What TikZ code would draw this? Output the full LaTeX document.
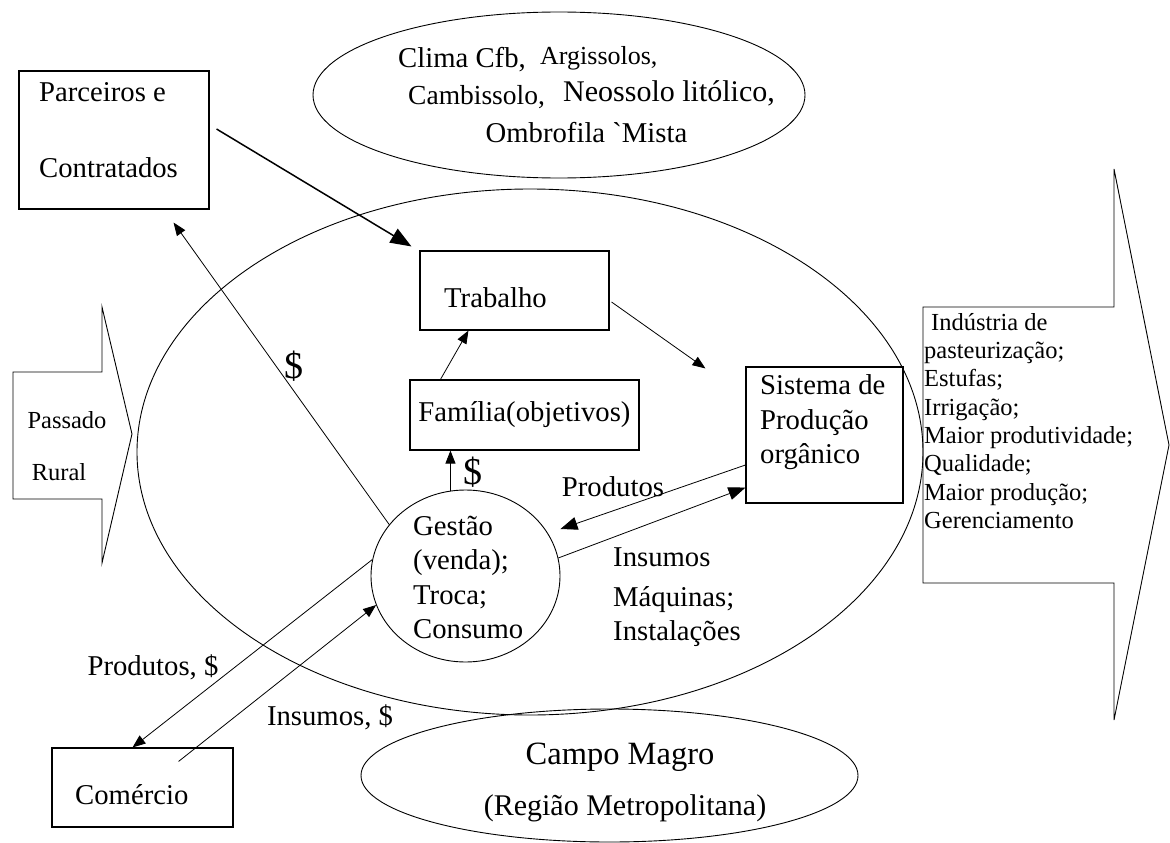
\documentclass[tikz,border=0pt]{standalone}
\usepackage{fontspec}
\setmainfont{Liberation Serif}
\usetikzlibrary{calc,arrows.meta,shapes.geometric}
\newcommand\txtmain{\fontsize{28.7pt}{34.5pt}\selectfont}
\newcommand\txtsmall{\fontsize{24.5pt}{28.3pt}\selectfont}
\tikzset{
	box/.style={draw, line width=1.1pt, inner sep=0pt},
	oval/.style={draw, ellipse, line width=0.9pt, inner sep=0pt},
	txt/.style={inner sep=0pt, font=\txtmain, align=left},
	stxt/.style={inner sep=0pt, font=\txtsmall, align=left},
	flow/.style={line width=0.8pt, -{Triangle[length=13pt,width=10pt]}},
	flowmid/.style={line width=0.8pt, -{Triangle[length=17pt,width=13pt]}},
	flowbig/.style={line width=1.5pt, -{Triangle[length=21pt,width=16pt]}},
}
\begin{document}
\begin{tikzpicture}[x=1pt, y=-1pt]
			%%%%% START %%%%%
			\useasboundingbox (0,0) rectangle (1170,843);
			
			\node[oval, minimum width=786, minimum height=526] (prop) at (530,452) {};
			\node[oval, minimum width=492, minimum height=166] (clima) at (559,95) {};
			\node[oval, minimum width=497, minimum height=133] (campo) at (609.5,775.5) {};
			\node[oval, minimum width=189, minimum height=172] (gest) at (465.5,576) {};
			
			\node[txt, anchor=west] (clima1) at (398,60) {Clima Cfb,};
			\node[txt, anchor=west, font=\fontsize{26pt}{30pt}\selectfont] (clima2) at (540,58) {Argissolos,};
			\node[txt, anchor=west, font=\fontsize{27.5pt}{33pt}\selectfont] (clima3) at (408,97) {Cambissolo,};
			\node[txt, anchor=west, font=\fontsize{30pt}{36pt}\selectfont] (clima4) at (563,93) {Neossolo litólico,};
			\node[txt] (clima5) at (586.5,133) {Ombrofila \textasciigrave Mista};
			
			\node[txt, font=\fontsize{32.5pt}{39pt}\selectfont] (campo1) at (620,757) {Campo Magro};
			\node[txt, font=\fontsize{30pt}{36pt}\selectfont] (campo2) at (625,808) {(Região Metropolitana)};
			
			\node[box, minimum width=190, minimum height=138] (parc) at (114,140) {};
			\node[box, minimum width=189, minimum height=79] (trab) at (514.5,290.5) {};
			\node[box, minimum width=229, minimum height=70, font=\txtmain] (fam) at (524.5,415) {Família(objetivos)};
			\node[box, minimum width=157, minimum height=136] (sis) at (824.5,435) {};
			\node[box, minimum width=181, minimum height=79] (com) at (142.5,787.5) {};
			
			\node[txt, anchor=west] (parctxt) at (39,130) {Parceiros e\\[41.5pt]Contratados};
			\node[txt, anchor=west] (trabtxt) at (444,298) {Trabalho};
			\node[txt, anchor=west] (sistxt) at (760,422.5) {Sistema de\\Produção\\orgânico};
			\node[txt, anchor=west] (comtxt) at (75,795) {Comércio};
			\node[txt, anchor=west] (gesttxt) at (413,577.5) {Gestão\\(venda);\\Troca;\\Consumo};
			
			\draw[line width=0.9pt] (13,372) -- (102,372) -- (102,307) -- (132,434) -- (102,563) -- (102,499) -- (13,499) -- cycle;
			\node[stxt] (passado) at (67,420) {Passado};
			\node[stxt] (rural) at (59,472) {Rural};
			
			\draw[line width=0.9pt] (923,307) -- (1114,307) -- (1114,169) -- (1169,445) -- (1114,720) -- (1114,583) -- (923,583) -- cycle;
			\node[stxt, anchor=west] (ganhos) at (924,421) {\hspace*{7pt}Indústria de\\pasteurização;\\Estufas;\\Irrigação;\\Maior produtividade;\\Qualidade;\\Maior produção;\\Gerenciamento};
			
			\draw[flowbig] ($(parc.east)+(7,-11)$) -- ($(trab.north west)+(-8,-4)$);
			\draw[flow] ($(fam.north west)+(31,0)$) -- ($(trab.south west)+(49,0)$);
			\draw[flow] ($(trab.east)+(2,11.5)$) -- ($(sis.north west)+(-40,2)$);
			\draw[flow] (gest.100) -- (gest.100 |- fam.south);
			\draw[flow] (gest.146) -- ($(parc.south east)+(-36,13)$);
			\draw[flowmid] ($(sis.west)+(0,30)$) -- ($(gest.east)+(0,-47)$);
			\draw[flowmid] (gest.11) -- ($(sis.south west)+(0,-16)$);
			\draw[flow] (gest.170) -- ($(com.north)+(-10,0)$);
			\draw[flow] ($(com.north east)+(-55,14)$) -- (gest.198);
			
			\node[txt, font=\fontsize{38pt}{44pt}\selectfont] (dol1) at (294,366) {\$};
			\node[txt, font=\fontsize{38pt}{44pt}\selectfont] (dol2) at (473,472) {\$};
			\node[txt] (prod) at (613,487) {Produtos};
			\node[txt, anchor=west] (ins) at (613,557) {Insumos};
			\node[txt, anchor=west] (maq) at (613,616.5) {Máquinas;\\Instalações};
			\node[txt] (prodcom) at (153,667) {Produtos, \$};
			\node[txt] (inscom) at (330,717) {Insumos, \$};
			
			%%%%% END %%%%%
\end{tikzpicture}
\end{document}
